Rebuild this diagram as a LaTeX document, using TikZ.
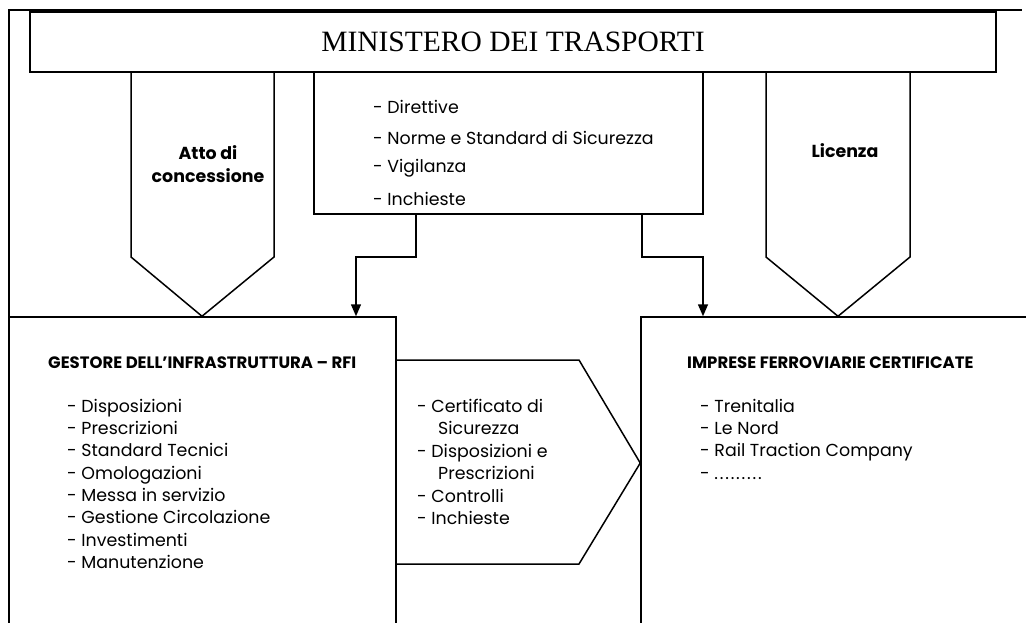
\documentclass[tikz,border=0pt]{standalone}
\usepackage{fontspec}
\newfontfamily\gothic[Ligatures=TeX]{Poppins}
\newfontfamily\titleserif[Ligatures=TeX]{Liberation Serif}
\usetikzlibrary{arrows.meta,positioning}
\newcommand{\etcdots}{.\kern1.8pt.\kern1.8pt.\kern1.8pt.\kern1.8pt.\kern1.8pt.\kern1.8pt.\kern1.8pt.\kern1.8pt.}

\begin{document}
\begin{tikzpicture}[
      x=1pt, y=-1pt,
      mybox/.style={
         rectangle,
         draw=black,
         line width=1.5pt,
         inner sep=0pt},
      myline/.style={
         line width=1.5pt,
         line join=miter},
      myarrow/.style={
         -{Triangle[length=12pt,width=10pt]},
         line width=1.5pt},
      mylabel/.style={
         font=\gothic\bfseries\fontsize{17.4}{23}\selectfont,
         align=center},
      mytitle/.style={
         anchor=base west,
         inner sep=0pt,
         font=\gothic\bfseries\fontsize{16.5}{18}\selectfont},
      myitem/.style={
         anchor=base west,
         inner sep=0pt,
         font=\gothic\fontsize{17.4}{20}\selectfont},
      ]
      \useasboundingbox (0,0) rectangle (1026,622);
      % frame
      \coordinate (fl) at (9,660);
      \coordinate (fr) at (1022,10);
      \draw[myline] (fl) |- (fr);

      % ministero
      \node[mybox,minimum width=966pt,minimum height=60pt,
            font=\titleserif\fontsize{29.5}{30}\selectfont] (min) at (513,42) {MINISTERO DEI TRASPORTI};
      % boxes
      \node[mybox,minimum width=389pt,minimum height=142pt] (dir) at (508.5,143) {};
      \node[mybox,minimum width=387pt,minimum height=340pt] (rfi) at (202.5,487) {};
      \node[mybox,minimum width=420pt,minimum height=340pt] (imp) at (851,487) {};

      % pentagons
      \draw[myline] (min.south -| 131,0) -- (131,257) -- (rfi.north -| 202,0)
                    -- (274,257) -- (min.south -| 274,0);
      \draw[myline] (min.south -| 766,0) -- (766,257) -- (imp.north -| 838,0)
                    -- (910,257) -- (min.south -| 910,0);
      \node[mylabel] (atto) at (208,164) {Atto di\\concessione};
      \node[mylabel,anchor=base] (lic) at (845,157) {Licenza};

      % hexagon
      \draw[myline] (rfi.east |- 0,360) -- (579,360) -- (imp.west |- 0,463)
                    -- (579,564) -- (rfi.east |- 0,564);

      % connectors
      \coordinate (k1) at (356,257);
      \coordinate (k2) at (703,257);
      \draw[myarrow] (dir.south -| 416,0) |- (k1) -- (k1 |- rfi.north);
      \draw[myarrow] (dir.south -| 642,0) |- (k2) -- (k2 |- imp.north);

      % texts
      \foreach \y/\txt [count=\i] in {113/Direttive, 144/Norme e Standard di Sicurezza,
                                      172/Vigilanza, 205/Inchieste}
        \node[myitem] (dir\i) at (373,\y) {- \txt};

      \node[mytitle] (rfit) at (48,368) {GESTORE DELL’INFRASTRUTTURA – RFI};
      \foreach \txt [count=\i] in {Disposizioni, Prescrizioni, Standard Tecnici,
          Omologazioni, Messa in servizio, Gestione Circolazione, Investimenti, Manutenzione}
        \node[myitem] (rfi\i) at (67,390+22.3*\i) {- \txt};

      \foreach \txt [count=\i] in {- Certificato di, \hspace*{21pt}Sicurezza,
          - Disposizioni e, \hspace*{21pt}Prescrizioni, - Controlli, - Inchieste}
        \node[myitem] (cer\i) at (417,390+22.4*\i) {\txt};

      \node[mytitle] (impt) at (687,368) {IMPRESE FERROVIARIE CERTIFICATE};
      \foreach \txt [count=\i] in {Trenitalia, Le Nord, Rail Traction Company, \etcdots}
        \node[myitem] (imp\i) at (700,390+22.3*\i) {- \txt};
\end{tikzpicture}
\end{document}
